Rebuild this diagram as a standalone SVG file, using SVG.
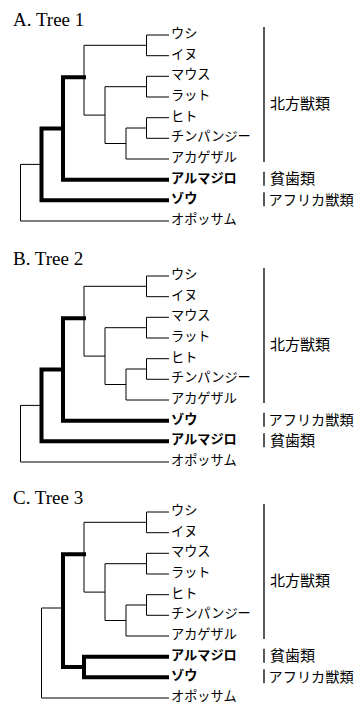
<svg xmlns="http://www.w3.org/2000/svg" width="357" height="708" viewBox="0 0 357 708">
<defs>
<style>
.title{font-family:"Liberation Serif","Times New Roman",serif;font-size:19px;fill:#000}
.leaf{font-family:"Noto Sans CJK JP","Noto Sans",sans-serif;font-size:13.2px;fill:#000}
.b{font-weight:bold}
.grp{font-family:"Noto Sans CJK JP","Noto Sans",sans-serif;font-size:15px;fill:#000}
.afr{font-size:14.2px}
.bar{stroke:#000;stroke-width:1.3;fill:none}
.thin{stroke:#000;stroke-width:1;fill:none}
.thick{stroke:#000;stroke-width:4;fill:none;stroke-linejoin:miter;stroke-linecap:square}
</style>
</defs>
<rect width="357" height="708" fill="#fff"/>

<!-- ===== Tree A ===== -->
<text class="title" x="13" y="26">A. Tree 1</text>
<g id="treeA-connectors">
<path class="thin" d="M169,35 H146.5 V55.7 H169"/>
<path class="thin" d="M169,76.3 H146.5 V97 H169"/>
<path class="thin" d="M169,117.7 H146.5 V138.3 H169"/>
<path class="thin" d="M146.5,128 H126 V159 H169"/>
<path class="thin" d="M146.5,86.7 H105 V143.5 H126"/>
<path class="thin" d="M146.5,45.3 H84 V115.1 H105"/>
<path class="thin" d="M41.5,164.4 H20.5 V221 H169"/>
<path class="thick" d="M84,77.2 H63 V179.7 H167"/>
<path class="thick" d="M63,128.5 H41.5 V200.3 H167"/>
</g>
<g id="A-ushi"><text class="leaf" x="171" y="38">ウシ</text></g>
<g id="A-inu"><text class="leaf" x="171" y="58.7">イヌ</text></g>
<g id="A-mouse"><text class="leaf" x="171" y="79.3">マウス</text></g>
<g id="A-rat"><text class="leaf" x="171" y="100">ラット</text></g>
<g id="A-human"><text class="leaf" x="171" y="120.7">ヒト</text></g>
<g id="A-chimp"><text class="leaf" x="171" y="141.3">チンパンジー</text></g>
<g id="A-macaque"><text class="leaf" x="171" y="162">アカゲザル</text></g>
<g id="A-armadillo"><text class="leaf b" x="171" y="182.7">アルマジロ</text></g>
<g id="A-elephant"><text class="leaf b" x="171" y="203.3">ゾウ</text></g>
<g id="A-opossum"><text class="leaf" x="171" y="224">オポッサム</text></g>
<g id="A-boreo"><line class="bar" x1="264" y1="27" x2="264" y2="162"/><text class="grp" x="270" y="108.5">北方獣類</text></g>
<g id="A-xen"><line class="bar" x1="264" y1="171.7" x2="264" y2="185.7"/><text class="grp" x="270" y="184.2">貧歯類</text></g>
<g id="A-afro"><line class="bar" x1="264" y1="192.3" x2="264" y2="206.3"/><text class="grp afr" x="268.5" y="204.8">アフリカ獣類</text></g>

<!-- ===== Tree B ===== -->
<text class="title" x="13" y="265">B. Tree 2</text>
<g id="treeB-connectors">
<path class="thin" d="M169,276 H146.5 V296.7 H169"/>
<path class="thin" d="M169,317.3 H146.5 V338 H169"/>
<path class="thin" d="M169,358.7 H146.5 V379.3 H169"/>
<path class="thin" d="M146.5,369 H126 V400 H169"/>
<path class="thin" d="M146.5,327.7 H105 V384.5 H126"/>
<path class="thin" d="M146.5,286.3 H84 V356.1 H105"/>
<path class="thin" d="M41.5,405.4 H20.5 V462 H169"/>
<path class="thick" d="M84,318.2 H63 V420.7 H167"/>
<path class="thick" d="M63,369.5 H41.5 V441.3 H167"/>
</g>
<g id="B-ushi"><text class="leaf" x="171" y="279">ウシ</text></g>
<g id="B-inu"><text class="leaf" x="171" y="299.7">イヌ</text></g>
<g id="B-mouse"><text class="leaf" x="171" y="320.3">マウス</text></g>
<g id="B-rat"><text class="leaf" x="171" y="341">ラット</text></g>
<g id="B-human"><text class="leaf" x="171" y="361.7">ヒト</text></g>
<g id="B-chimp"><text class="leaf" x="171" y="382.3">チンパンジー</text></g>
<g id="B-macaque"><text class="leaf" x="171" y="403">アカゲザル</text></g>
<g id="B-elephant"><text class="leaf b" x="171" y="423.7">ゾウ</text></g>
<g id="B-armadillo"><text class="leaf b" x="171" y="444.3">アルマジロ</text></g>
<g id="B-opossum"><text class="leaf" x="171" y="465">オポッサム</text></g>
<g id="B-boreo"><line class="bar" x1="264" y1="268" x2="264" y2="403"/><text class="grp" x="270" y="349.5">北方獣類</text></g>
<g id="B-afro"><line class="bar" x1="264" y1="412.7" x2="264" y2="426.7"/><text class="grp afr" x="268.5" y="425.2">アフリカ獣類</text></g>
<g id="B-xen"><line class="bar" x1="264" y1="433.3" x2="264" y2="447.3"/><text class="grp" x="270" y="445.8">貧歯類</text></g>

<!-- ===== Tree C ===== -->
<text class="title" x="13" y="504">C. Tree 3</text>
<g id="treeC-connectors">
<path class="thin" d="M169,512 H146.5 V532.7 H169"/>
<path class="thin" d="M169,553.3 H146.5 V574 H169"/>
<path class="thin" d="M169,594.7 H146.5 V615.3 H169"/>
<path class="thin" d="M146.5,605 H126 V636 H169"/>
<path class="thin" d="M146.5,563.7 H105 V620.5 H126"/>
<path class="thin" d="M146.5,522.3 H84 V592.1 H105"/>
<path class="thin" d="M63,608 H41.5 V698 H169"/>
<path class="thick" d="M84,554.2 H63 V667 H84"/>
<path class="thick" d="M167,656.7 H84 V677.3 H167"/>
</g>
<g id="C-ushi"><text class="leaf" x="171" y="515">ウシ</text></g>
<g id="C-inu"><text class="leaf" x="171" y="535.7">イヌ</text></g>
<g id="C-mouse"><text class="leaf" x="171" y="556.3">マウス</text></g>
<g id="C-rat"><text class="leaf" x="171" y="577">ラット</text></g>
<g id="C-human"><text class="leaf" x="171" y="597.7">ヒト</text></g>
<g id="C-chimp"><text class="leaf" x="171" y="618.3">チンパンジー</text></g>
<g id="C-macaque"><text class="leaf" x="171" y="639">アカゲザル</text></g>
<g id="C-armadillo"><text class="leaf b" x="171" y="659.7">アルマジロ</text></g>
<g id="C-elephant"><text class="leaf b" x="171" y="680.3">ゾウ</text></g>
<g id="C-opossum"><text class="leaf" x="171" y="701">オポッサム</text></g>
<g id="C-boreo"><line class="bar" x1="264" y1="504" x2="264" y2="639"/><text class="grp" x="270" y="585.5">北方獣類</text></g>
<g id="C-xen"><line class="bar" x1="264" y1="648.7" x2="264" y2="662.7"/><text class="grp" x="270" y="661.2">貧歯類</text></g>
<g id="C-afro"><line class="bar" x1="264" y1="669.3" x2="264" y2="683.3"/><text class="grp afr" x="268.5" y="681.8">アフリカ獣類</text></g>
</svg>
